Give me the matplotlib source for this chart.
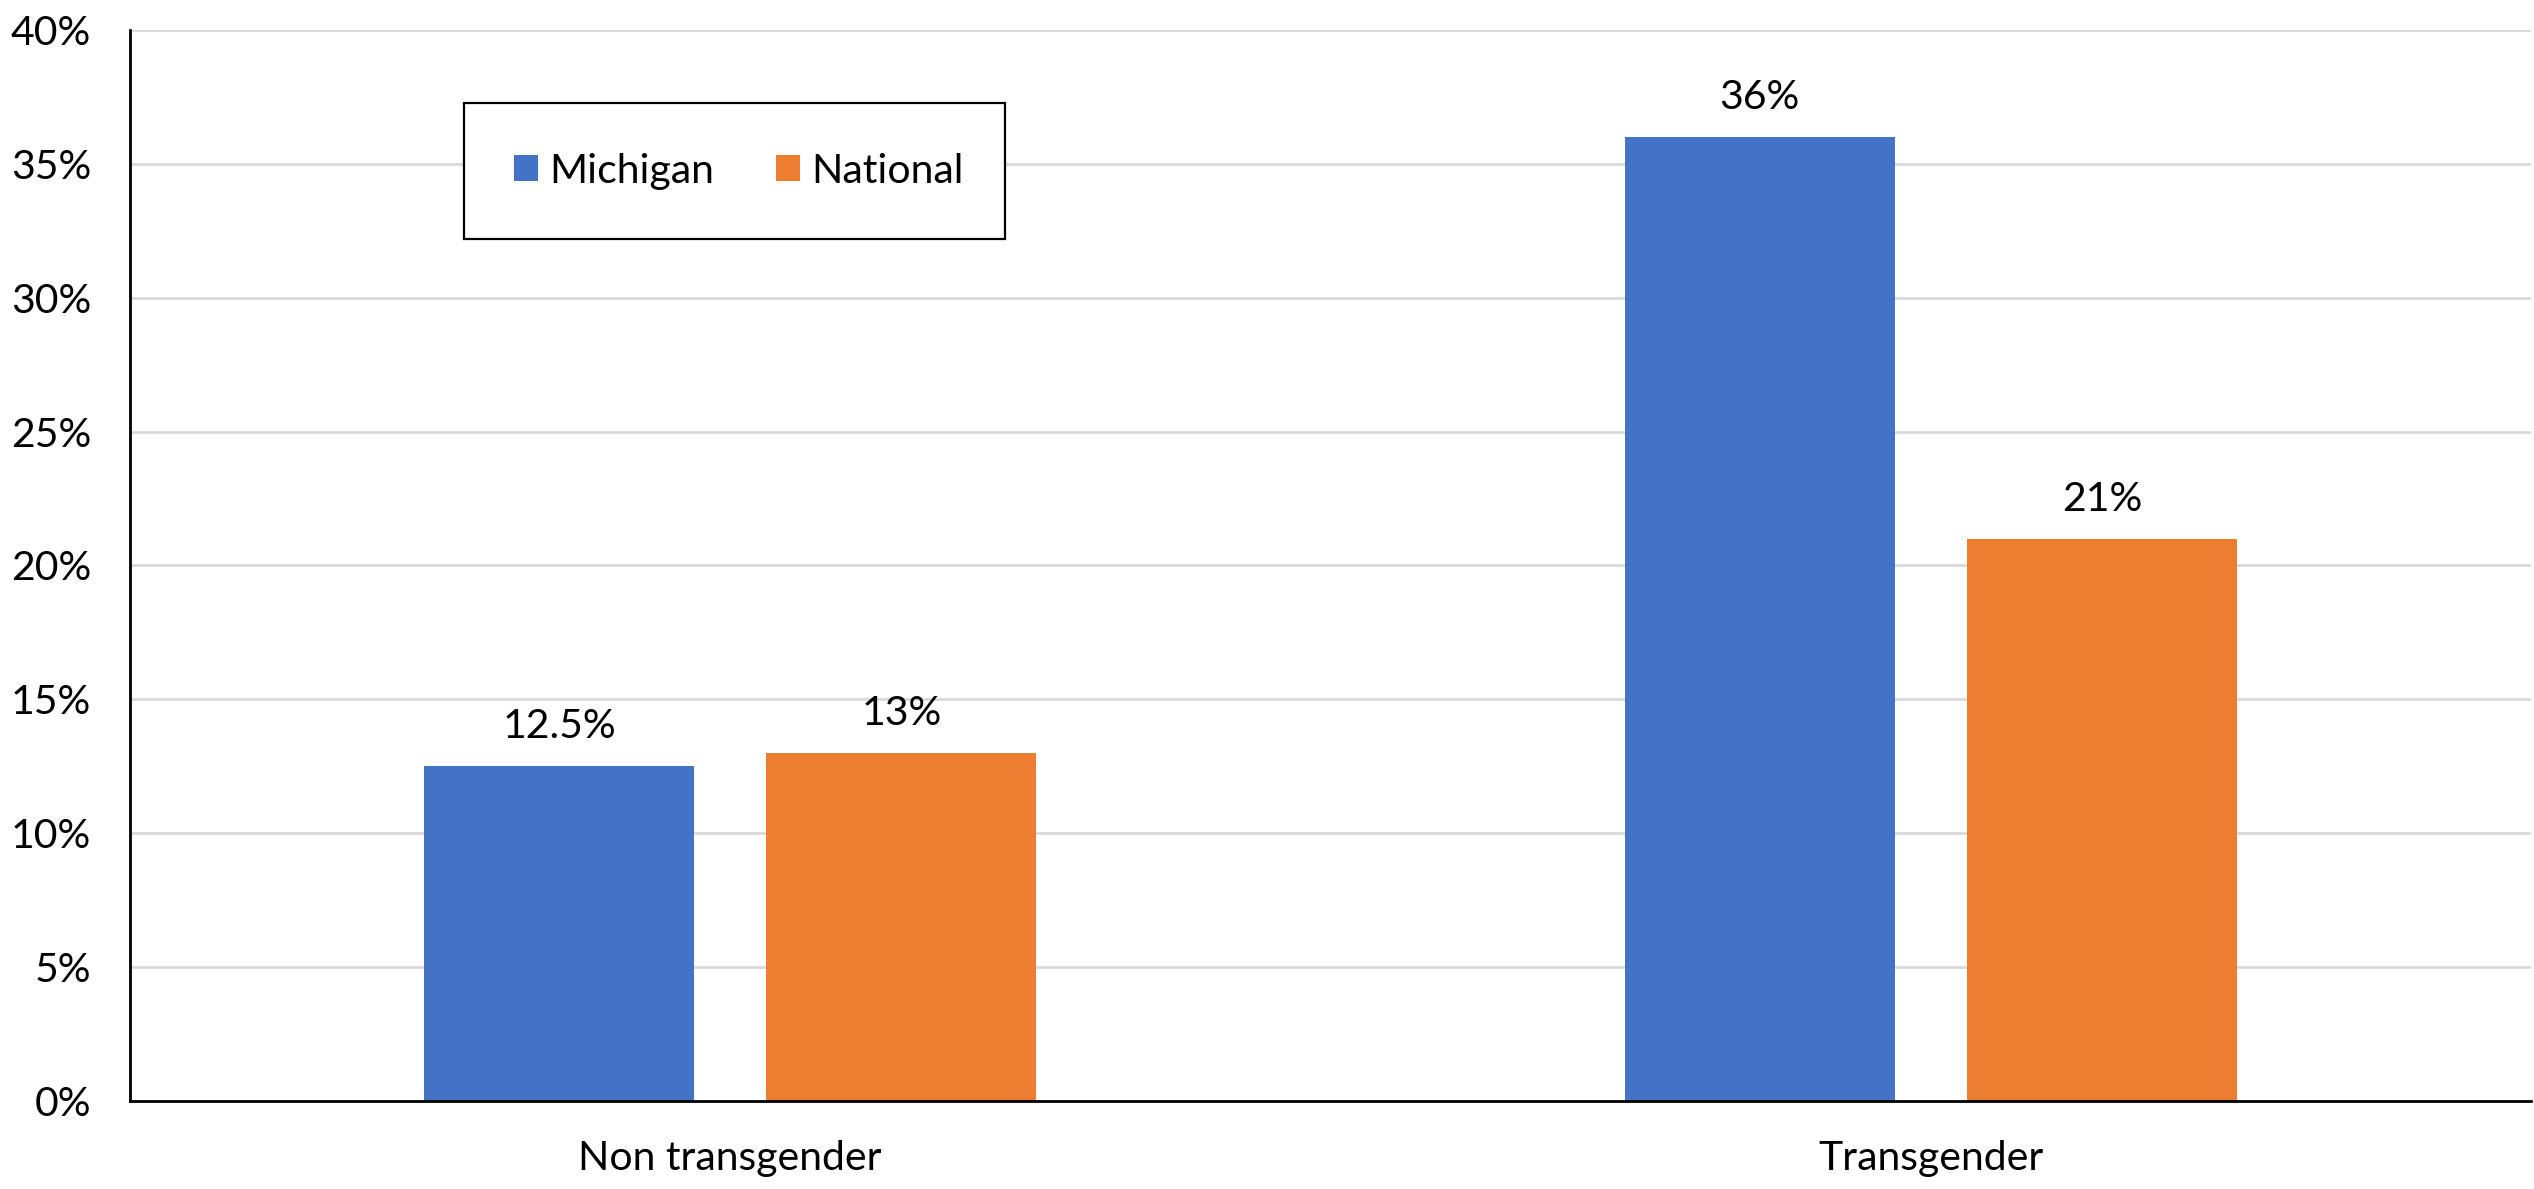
import numpy as np
import matplotlib
matplotlib.use("Agg")
import matplotlib.pyplot as plt
from matplotlib.patches import Rectangle

plt.rcParams['font.family'] = ['Lato', 'DejaVu Sans']

categories = ["Non transgender", "Transgender"]
series_names = ["Michigan", "National"]
michigan = [12.5, 36]
national = [13, 21]
value_labels = [["12.5%", "36%"], ["13%", "21%"]]
yticks = [0, 5, 10, 15, 20, 25, 30, 35, 40]

colors = ["#4472C4", "#ED7D31"]
bar_w = 0.225
shift = 0.1425
fs = 29.5

fig = plt.figure(figsize=(25.34, 11.89), dpi=100)
ax = fig.add_axes([130 / 2534, 1 - 1101 / 1189, 2401 / 2534, 1071 / 1189])

x = np.arange(len(categories))
for i, vals in enumerate([michigan, national]):
    xs = x + (i - 0.5) * 2 * shift
    bars = ax.bar(xs, vals, width=bar_w, color=colors[i], label=series_names[i], zorder=3)
    for b, lab in zip(bars, value_labels[i]):
        ax.annotate(lab, (b.get_x() + b.get_width() / 2, b.get_height()),
                    xytext=(0, 15), textcoords="offset points",
                    ha="center", va="bottom", fontsize=fs)

ax.set_xlim(-0.5, 1.5)
ax.set_ylim(0, 40)
ax.set_yticks(yticks)
ax.set_yticklabels([f"{t}%" for t in yticks], fontsize=fs)
ax.set_xticks(x)
ax.set_xticklabels(categories, fontsize=fs)
ax.tick_params(axis="both", length=0)
ax.tick_params(axis="y", pad=28)
ax.tick_params(axis="x", pad=28)
ax.grid(axis="y", color="#d9d9d9", linewidth=2, zorder=0)
ax.set_axisbelow(True)
for s in ["top", "right"]:
    ax.spines[s].set_visible(False)
for s in ["left", "bottom"]:
    ax.spines[s].set_linewidth(2)
    ax.spines[s].set_color("black")
    ax.spines[s].set_zorder(4)

# legend box
ax.add_patch(Rectangle((0.139, 0.805), 0.2255, 0.127, transform=ax.transAxes,
                       fill=True, facecolor="white", edgecolor="black",
                       linewidth=1.6, zorder=5))
leg = ax.legend(loc="center", bbox_to_anchor=(0.2535, 0.868), ncol=2, frameon=False,
                fontsize=fs, handlelength=0.6, handleheight=0.6,
                handletextpad=0.27, columnspacing=1.5)
leg.set_zorder(6)

fig.savefig("out.png", dpi=100)
